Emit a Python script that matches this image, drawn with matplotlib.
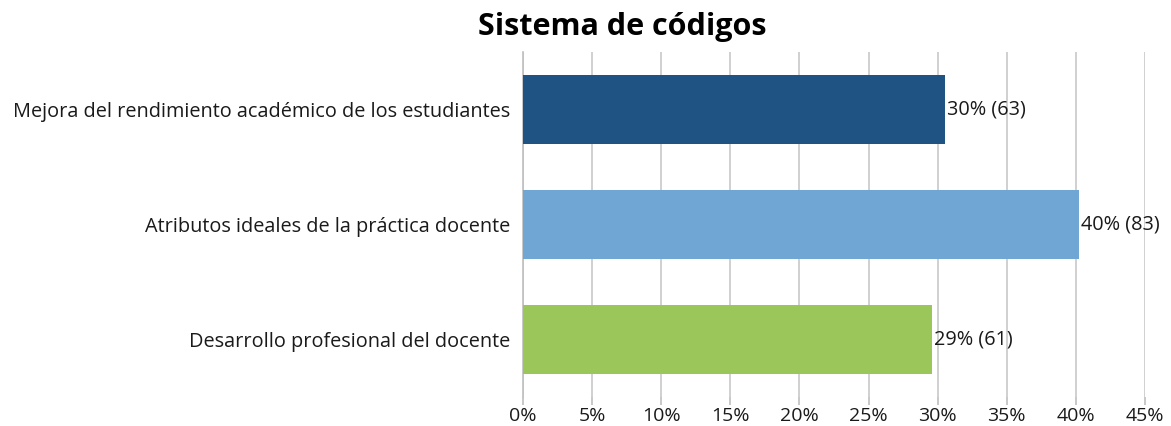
import matplotlib
matplotlib.use("Agg")
import matplotlib.pyplot as plt

categories = ["Mejora del rendimiento académico de los estudiantes",
              "Atributos ideales de la práctica docente",
              "Desarrollo profesional del docente"]
percentages = [30.5, 40.2, 29.6]
counts = [63, 83, 61]
label_pct = ["30%", "40%", "29%"]
colors = ["#1F5383", "#6FA6D4", "#9BC65A"]
xticks = [0, 5, 10, 15, 20, 25, 30, 35, 40, 45]

plt.rcParams['font.family'] = ['Open Sans', 'DejaVu Sans']

W, H = 1171, 426
fig = plt.figure(figsize=(W / 100, H / 100), dpi=100)
ax = fig.add_axes([523 / W, 1 - 397 / H, (1145 - 523) / W, (397 - 52) / H])

ypos = list(range(len(categories)))
ax.barh(ypos, percentages, height=0.6, color=colors, zorder=3)
ax.set_ylim(len(categories) - 0.5, -0.5)
ax.set_xlim(0, 45)
ax.set_yticks(ypos)
ax.set_yticklabels(categories, fontsize=14.3, color="#1a1a1a")
ax.set_xticks(xticks)
ax.set_xticklabels([f"{t}%" for t in xticks], fontsize=14, color="#1a1a1a")
ax.tick_params(axis="y", length=0, pad=9)
ax.tick_params(axis="x", length=6, color="#bfbfbf", width=1.2, pad=1)
ax.grid(axis="x", color="#c8c8c8", linewidth=1.2, zorder=0)
for s in ["top", "right", "bottom"]:
    ax.spines[s].set_visible(False)
ax.spines["left"].set_color("#bfbfbf")
ax.spines["left"].set_linewidth(1.2)

for y, v, lp, c in zip(ypos, percentages, label_pct, counts):
    ax.text(v + 0.15, y, f"{lp} ({c})", va="center", ha="left", fontsize=14.3,
            color="#1a1a1a", zorder=4)

fig.text(622 / W, 1 - 27 / H, "Sistema de códigos", ha="center", va="center",
         fontsize=22, fontweight="bold", color="#000000")

fig.savefig("out.png", dpi=100)
